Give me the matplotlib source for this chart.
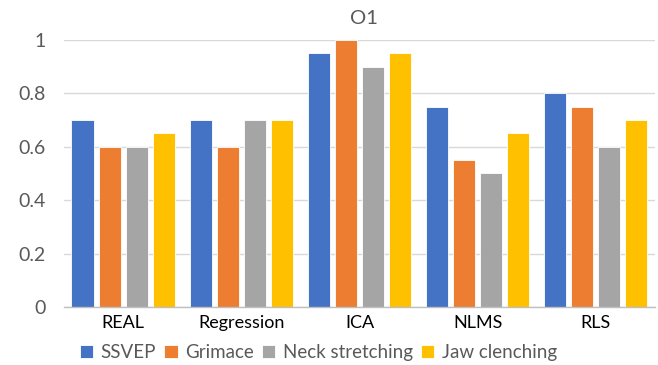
import matplotlib
matplotlib.use("Agg")
import matplotlib.pyplot as plt
import numpy as np

plt.rcParams['font.family'] = ['Lato', 'DejaVu Sans']

categories = ["REAL", "Regression", "ICA", "NLMS", "RLS"]
series_names = ["SSVEP", "Grimace", "Neck stretching", "Jaw clenching"]
ssvep = [0.70, 0.70, 0.95, 0.75, 0.80]
grimace = [0.60, 0.60, 1.00, 0.55, 0.75]
neck = [0.60, 0.70, 0.90, 0.50, 0.60]
jaw = [0.65, 0.70, 0.95, 0.65, 0.70]
y_ticks = [0, 0.2, 0.4, 0.6, 0.8, 1]
y_tick_labels = ["0", "0.2", "0.4", "0.6", "0.8", "1"]
title = "O1"

colors = ["#4472C4", "#ED7D31", "#A5A5A5", "#FFC000"]
text_color = "#595959"

fig = plt.figure(figsize=(6.58, 3.65), dpi=100)
ax = fig.add_axes([0.0973, 0.159, 0.898, 0.7315])

x = np.arange(len(categories))
slot = 0.229
width = 0.187
for i, (vals, name) in enumerate(zip([ssvep, grimace, neck, jaw], series_names)):
    offs = (i - 1.5) * slot
    ax.bar(x + offs, vals, width, color=colors[i], label=name,
           edgecolor="white", linewidth=0.6, zorder=3)

ax.set_xlim(-0.5, len(categories) - 0.5)
ax.set_ylim(0, 1)
ax.set_yticks(y_ticks)
ax.set_yticklabels(y_tick_labels, fontsize=14, color=text_color)
ax.set_xticks(x)
ax.set_xticklabels(categories, fontsize=13, color="black")
ax.tick_params(axis="both", length=0)
ax.tick_params(axis="y", pad=13)
ax.tick_params(axis="x", pad=6)

ax.grid(axis="y", color="#D9D9D9", linewidth=1, zorder=0)
for s in ["top", "right", "left"]:
    ax.spines[s].set_visible(False)
ax.spines["bottom"].set_color("#BFBFBF")
ax.spines["bottom"].set_linewidth(1)
ax.spines["bottom"].set_zorder(4)

fig.text(0.553, 0.95, title, ha="center", va="center", fontsize=14.5, color=text_color)

fig.legend(loc="center", bbox_to_anchor=(0.484, 0.035), ncol=4, frameon=False,
           fontsize=13.5, handlelength=0.7, handleheight=0.7, handletextpad=0.4,
           columnspacing=0.45, labelcolor=text_color)

fig.savefig("out.png", dpi=100)
